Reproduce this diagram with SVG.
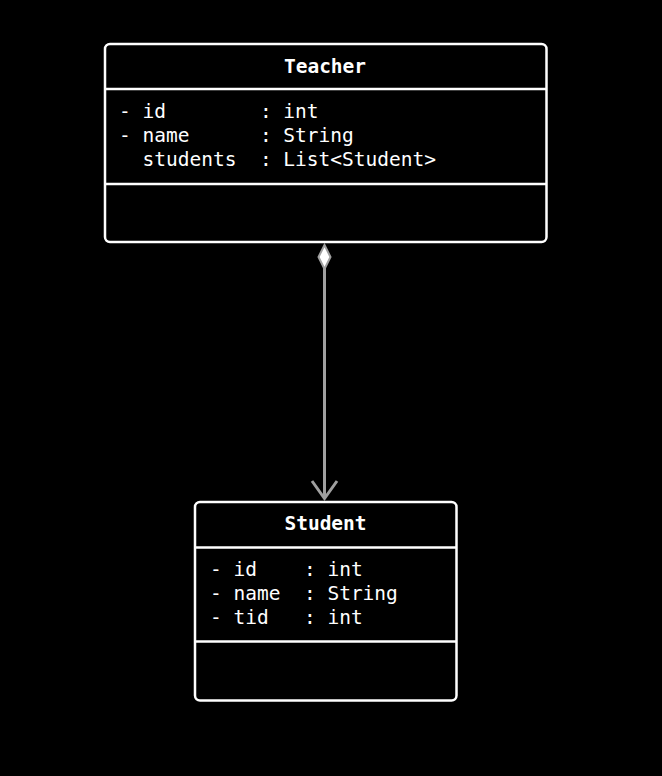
<svg xmlns="http://www.w3.org/2000/svg" width="662" height="776" viewBox="0 0 662 776">
<style>
.box{fill:#000;stroke:#fff;stroke-width:2.5}
.div{stroke:#fff;stroke-width:2.5}
.t{font-family:"DejaVu Sans Mono","Liberation Mono",monospace;font-size:19.5px;fill:#fff;white-space:pre}
.b{font-weight:bold;text-anchor:middle}
.conn{stroke:#a0a0a0;stroke-width:3;fill:none}
</style>
<rect x="0" y="0" width="662" height="776" fill="#000"/>
<g id="Teacher">
<rect class="box" x="105" y="44" width="441.5" height="198" rx="5"/>
<line class="div" x1="105" y1="89" x2="546.5" y2="89"/>
<line class="div" x1="105" y1="184" x2="546.5" y2="184"/>
<text class="t b" x="325" y="72.5">Teacher</text>
<text class="t" x="119" y="118" xml:space="preserve">- id        : int</text>
<text class="t" x="119" y="142" xml:space="preserve">- name      : String</text>
<text class="t" x="119" y="166" xml:space="preserve">  students  : List&lt;Student&gt;</text>
</g>
<g id="Student">
<rect class="box" x="195" y="502" width="261.5" height="198.5" rx="5"/>
<line class="div" x1="195" y1="547.5" x2="456.5" y2="547.5"/>
<line class="div" x1="195" y1="641.5" x2="456.5" y2="641.5"/>
<text class="t b" x="325.5" y="529.5">Student</text>
<text class="t" x="210" y="576" xml:space="preserve">- id    : int</text>
<text class="t" x="210" y="600" xml:space="preserve">- name  : String</text>
<text class="t" x="210" y="624" xml:space="preserve">- tid   : int</text>
</g>
<g id="connectors">
<line class="conn" x1="324.5" y1="268" x2="324.5" y2="498"/>
<polygon points="324.5,245 330.5,257 324.5,269 318.5,257" fill="#fff" stroke="#a0a0a0" stroke-width="2"/>
<polyline class="conn" points="312,481 324.5,498.5 337,481"/>
</g>
</svg>
